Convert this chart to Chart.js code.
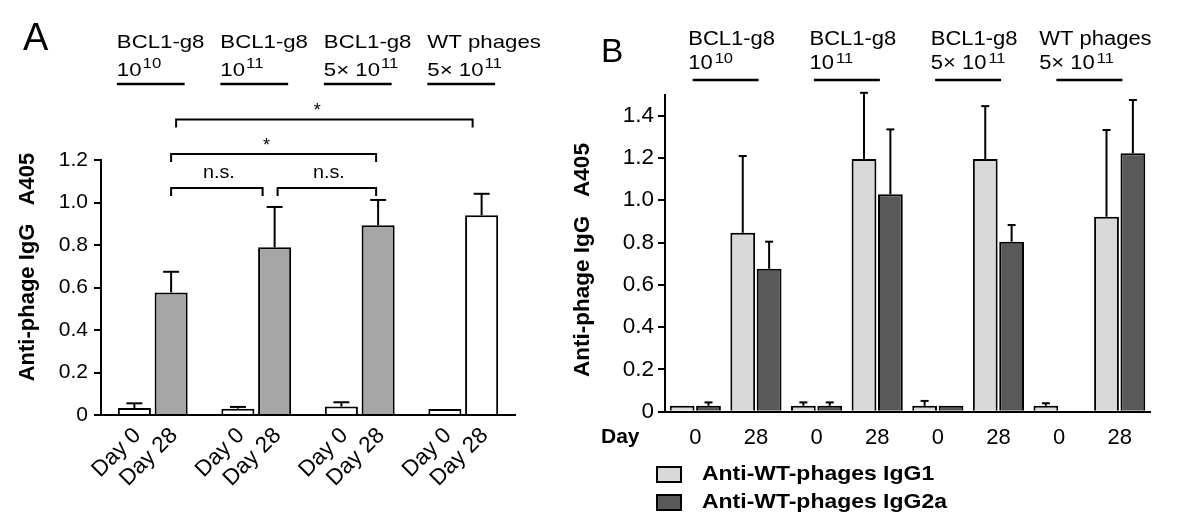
<!DOCTYPE html>
<html>
<head>
<meta charset="utf-8">
<script src="https://cdn.jsdelivr.net/npm/chart.js@4.4.1/dist/chart.umd.min.js"></script>
<style>
  html, body { margin: 0; padding: 0; background: #fff; }
  #wrap { position: relative; width: 1181px; height: 531px; overflow: hidden; }
  canvas { position: absolute; top: 0; }
  #chartA { left: 0; }
  #chartB { left: 560px; }
</style>
</head>
<body>
<div id="wrap">
  <canvas id="chartA" width="560" height="531"></canvas>
  <canvas id="chartB" width="621" height="531"></canvas>
</div>
<script>
const FONT = '"Liberation Sans", Arial, Helvetica, sans-serif';

// ---- panel A data ----
const groupNames = ['BCL1-g8', 'BCL1-g8', 'BCL1-g8', 'WT phages'];
const doseMantissa = ['', '', '5\u00d7 ', '5\u00d7 '];
const doseExponent = ['10', '11', '11', '11'];
const dayLabelsA = ['Day 0', 'Day 28'];
const day0Mean = [0.033, 0.030, 0.040, 0.028];
const day0Sd = [0.022, 0.008, 0.020, 0];
const day28Mean = [0.577, 0.789, 0.893, 0.940];
const day28Sd = [0.097, 0.190, 0.119, 0.101];
const ticksA = [0, 0.2, 0.4, 0.6, 0.8, 1.0, 1.2];
const comparisons = [
    { from: 0, to: 1, y: 1.068, text: 'n.s.' },
    { from: 1, to: 2, y: 1.068, text: 'n.s.' },
    { from: 0, to: 2, y: 1.228, text: '*' },
    { from: 0, to: 3, y: 1.391, text: '*' }
];

// ---- panel B data ----
const daysB = ['0', '28', '0', '28', '0', '28', '0', '28'];
const seriesB = ['Anti-WT-phages IgG1', 'Anti-WT-phages IgG2a'];
const igg1Mean = [0.028, 0.846, 0.028, 1.195, 0.028, 1.195, 0.028, 0.922];
const igg1Sd = [0, 0.363, 0.016, 0.313, 0.023, 0.250, 0.012, 0.410];
const igg2aMean = [0.028, 0.676, 0.028, 1.028, 0.028, 0.804, 0, 1.222];
const igg2aSd = [0.016, 0.128, 0.016, 0.307, 0, 0.079, 0, 0.252];
const ticksB = [0, 0.2, 0.4, 0.6, 0.8, 1.0, 1.2, 1.4];

Chart.defaults.font.family = FONT;
Chart.defaults.color = '#000';

// draws text, optionally rotated and stretched along its length
function txt(ctx, s, x, y, o) {
    const sx = o.sx || 1;
    ctx.save();
    ctx.translate(x, y);
    if (o.rot) ctx.rotate(o.rot);
    ctx.scale(sx, 1);
    ctx.font = (o.bold ? 'bold ' : '') + o.size + 'px ' + FONT;
    ctx.fillStyle = '#000';
    ctx.textAlign = o.align || 'left';
    ctx.textBaseline = o.base || 'alphabetic';
    ctx.fillText(s, 0, 0);
    const w = ctx.measureText(s).width * sx;
    ctx.restore();
    return w;
}

function measure(ctx, s, size, sx, bold) {
    ctx.save();
    ctx.font = (bold ? 'bold ' : '') + size + 'px ' + FONT;
    const w = ctx.measureText(s).width * (sx || 1);
    ctx.restore();
    return w;
}

function line(ctx, pts, width) {
    ctx.save();
    ctx.strokeStyle = '#000';
    ctx.lineWidth = width || 2;
    ctx.beginPath();
    pts.forEach((p, i) => i ? ctx.lineTo(p[0], p[1]) : ctx.moveTo(p[0], p[1]));
    ctx.stroke();
    ctx.restore();
}

// dose line like "5× 10^11"
function dose(ctx, x, y, i, st) {
    let w = txt(ctx, doseMantissa[i] + '10', x, y, { size: st.size, sx: st.sx });
    txt(ctx, doseExponent[i], x + w + st.gap, y - st.rise, { size: st.supSize, sx: st.sx });
}

const errorBars = {
    id: 'errorBars',
    afterDatasetsDraw(chart, args, opts) {
        const y = chart.scales.y;
        chart.data.datasets.forEach((ds, i) => {
            chart.getDatasetMeta(i).data.forEach((bar, j) => {
                const sd = ds.errors[j];
                if (!sd) return;
                const top = y.getPixelForValue(ds.data[j]);
                const end = y.getPixelForValue(ds.data[j] + sd);
                line(chart.ctx, [[bar.x, top], [bar.x, end]], 2);
                line(chart.ctx, [[bar.x - opts.cap, end], [bar.x + opts.cap, end]], 2);
            });
        });
    }
};

const decorA = {
    id: 'decorA',
    afterDraw(chart) {
        const ctx = chart.ctx, y = chart.scales.y;
        const m0 = chart.getDatasetMeta(0).data, m1 = chart.getDatasetMeta(1).data;

        txt(ctx, 'A', 23, 50, { size: 38 });

        // group headers
        groupNames.forEach((name, g) => {
            const left = m0[g].x - m0[g].width / 2 - 1;
            const right = m1[g].x + m1[g].width / 2 - 3;
            txt(ctx, name, left, 48, { size: 18.5, sx: 1.2 });
            dose(ctx, left, 76, g, { size: 18.5, sx: 1.2, supSize: 14, rise: 8, gap: 1 });
            line(ctx, [[left, 84], [right, 84]], 2.5);
        });

        // rotated day labels
        [m0, m1].forEach((bars, i) => {
            bars.forEach(bar => {
                txt(ctx, dayLabelsA[i], bar.x + 3, 432, { size: 22.5, rot: -Math.PI / 4, align: 'right', base: 'middle' });
            });
        });

        // significance brackets
        const inset = [[0, -12], [3, -2], [0, -2], [5, -9]];
        comparisons.forEach((c, k) => {
            const x1 = m1[c.from].x + inset[k][0];
            const x2 = m1[c.to].x + inset[k][1];
            const yp = y.getPixelForValue(c.y);
            line(ctx, [[x1, yp + 8], [x1, yp], [x2, yp], [x2, yp + 8]], 2);
            if (c.text === '*') {
                txt(ctx, c.text, (x1 + x2) / 2 - 7, yp - 3, { size: 18, align: 'center' });
            } else {
                txt(ctx, c.text, (x1 + x2) / 2 + 2, yp - 10, { size: 18, sx: 1.1, align: 'center' });
            }
        });

        txt(ctx, 'Anti-phage IgG   A405', 28, 267, { size: 22, bold: true, rot: -Math.PI / 2, align: 'center', base: 'middle' });
    }
};

const decorB = {
    id: 'decorB',
    afterDraw(chart) {
        const ctx = chart.ctx;
        const m0 = chart.getDatasetMeta(0).data, m1 = chart.getDatasetMeta(1).data;

        txt(ctx, 'B', 41, 62, { size: 33.5 });

        groupNames.forEach((name, g) => {
            const left = m0[2 * g].x - m0[2 * g].width / 2;
            const right = m1[2 * g + 1].x + m1[2 * g + 1].width / 2;
            const mid = (left + right) / 2;
            const w = measure(ctx, name, 20, 1.1);
            const tx = mid + 6 - w / 2;
            txt(ctx, name, tx, 45, { size: 20, sx: 1.1 });
            dose(ctx, tx, 69, g, { size: 20, sx: 1.1, supSize: 15, rise: 6, gap: 2 });
            line(ctx, [[mid - 33, 80], [mid + 33, 80]], 2.5);
        });

        txt(ctx, 'Day', 41, 437, { size: 21, bold: true, base: 'middle' });

        // legend
        chart.data.datasets.forEach((ds, i) => {
            const cy = 474 + i * 28;
            ctx.save();
            ctx.fillStyle = ds.backgroundColor;
            ctx.fillRect(97, cy - 7, 24, 15);
            ctx.strokeStyle = '#000';
            ctx.lineWidth = 2;
            ctx.strokeRect(97, cy - 7, 24, 15);
            ctx.restore();
            txt(ctx, ds.label, 142, cy, { size: 20.5, sx: 1.12, bold: true, base: 'middle' });
        });

        txt(ctx, 'Anti-phage IgG   A405', 23, 260, { size: 22.5, bold: true, rot: -Math.PI / 2, align: 'center', base: 'middle' });
    }
};

function yAxis(max, tickList, width, fontSize, pad) {
    return {
        min: 0,
        max: max,
        afterBuildTicks: s => { s.ticks = tickList.map(v => ({ value: v })); },
        afterFit: s => { s.width = width; },
        ticks: {
            font: { size: fontSize },
            color: '#000',
            padding: pad,
            callback: v => v === 0 ? '0' : v.toFixed(1)
        },
        grid: { display: true, drawOnChartArea: false, drawTicks: true, tickLength: 7, color: '#000', lineWidth: 2 },
        border: { display: true, color: '#000', width: 2 }
    };
}

new Chart(document.getElementById('chartA'), {
    type: 'bar',
    data: {
        labels: groupNames,
        datasets: [
            {
                label: dayLabelsA[0],
                data: day0Mean,
                errors: day0Sd,
                backgroundColor: '#ffffff'
            },
            {
                label: dayLabelsA[1],
                data: day28Mean,
                errors: day28Sd,
                backgroundColor: groupNames.map(n => n === 'WT phages' ? '#ffffff' : '#a6a6a6')
            }
        ]
    },
    options: {
        responsive: false,
        animation: false,
        events: [],
        devicePixelRatio: 1,
        layout: { padding: { left: 0, top: 160, right: 45, bottom: 116 } },
        datasets: {
            bar: {
                borderColor: '#000',
                borderWidth: 2,
                borderSkipped: 'start',
                categoryPercentage: 0.71,
                barPercentage: 0.9
            }
        },
        plugins: {
            legend: { display: false },
            tooltip: { enabled: false },
            errorBars: { cap: 8 }
        },
        scales: {
            x: {
                ticks: { display: false },
                grid: { display: false, drawTicks: false },
                border: { display: true, color: '#000', width: 2 },
                afterFit: s => { s.height = 0; }
            },
            y: yAxis(1.2, ticksA, 101, 21, 6)
        }
    },
    plugins: [errorBars, decorA]
});

new Chart(document.getElementById('chartB'), {
    type: 'bar',
    data: {
        labels: daysB,
        datasets: [
            { label: seriesB[0], data: igg1Mean, errors: igg1Sd, backgroundColor: '#d9d9d9' },
            { label: seriesB[1], data: igg2aMean, errors: igg2aSd, backgroundColor: '#595959' }
        ]
    },
    options: {
        responsive: false,
        animation: false,
        events: [],
        devicePixelRatio: 1,
        layout: { padding: { left: 0, top: 94.5, right: 31, bottom: 79.3 } },
        datasets: {
            bar: {
                borderColor: '#000',
                borderWidth: 2,
                borderSkipped: 'start',
                categoryPercentage: 0.87,
                barPercentage: 0.94
            }
        },
        plugins: {
            legend: { display: false },
            tooltip: { enabled: false },
            errorBars: { cap: 4 }
        },
        scales: {
            x: {
                ticks: { font: { size: 22 }, color: '#000', padding: 13, maxRotation: 0 },
                grid: { display: false, drawTicks: false },
                border: { display: true, color: '#000', width: 2 },
                afterFit: s => { s.height = 40; }
            },
            y: yAxis(1.5, ticksB, 105, 22.5, 4)
        }
    },
    plugins: [errorBars, decorB]
});
</script>
</body>
</html>
